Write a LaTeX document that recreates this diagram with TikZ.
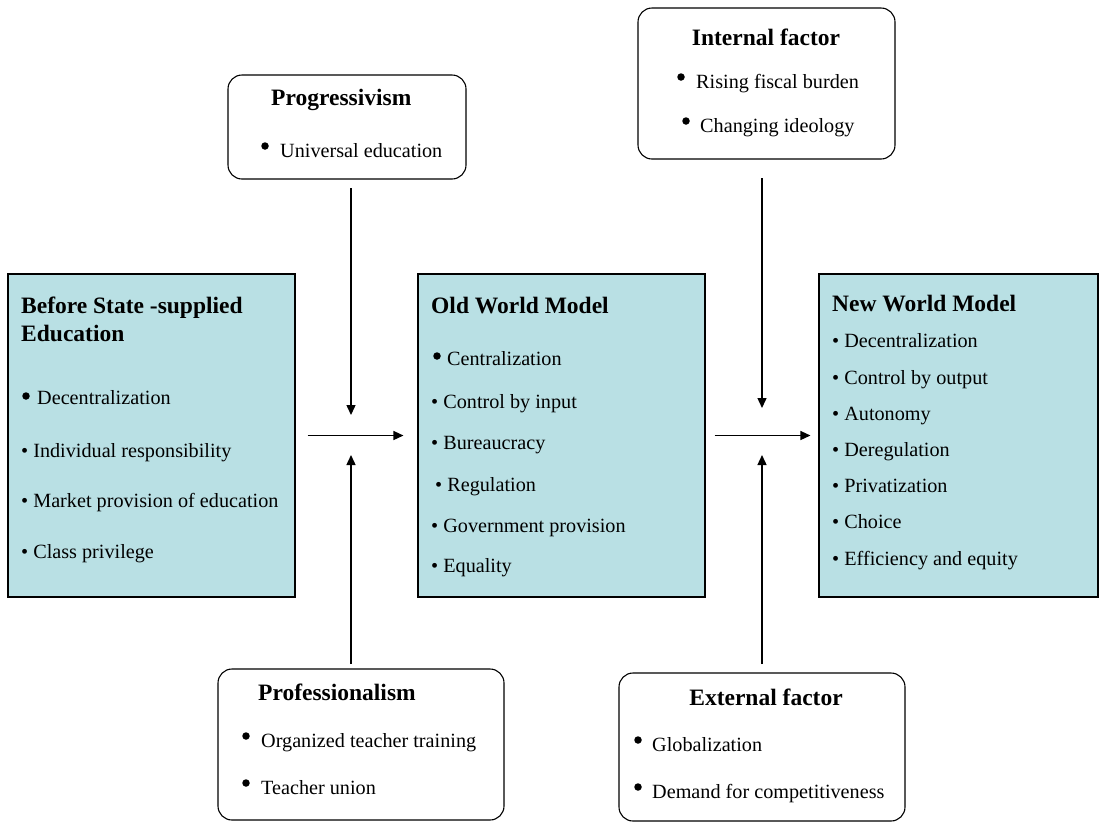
\documentclass[tikz,border=0pt]{standalone}
\usepackage{fontspec}
\setmainfont{Liberation Serif}
\usepackage{tikz}
\usetikzlibrary{arrows.meta, positioning}
\definecolor{boxblue}{RGB}{185,224,228}

\begin{document}
\begin{tikzpicture}[
  x=1pt, y=-1pt,
  model/.style={draw, fill=boxblue, line width=1.1pt, inner sep=0pt},
  factor/.style={draw, fill=white, rounded corners=14pt, line width=1.1pt, inner sep=0pt},
  head/.style={anchor=base west, inner sep=0pt, font=\fontsize{23.5}{27}\selectfont\bfseries},
  item/.style={anchor=base west, inner sep=0pt, font=\fontsize{20.2}{23}\selectfont},
  dot/.style={circle, fill=black, inner sep=0pt, minimum size=7.5pt},
  arrow/.style={-{Triangle[length=10pt, width=9pt]}, line width=1.4pt}
]
\useasboundingbox (0,0) rectangle (1099,823);

% model boxes
\node[model, minimum width=287pt, minimum height=323pt] (before) at (151.5,435.5) {};
\node[model, minimum width=287pt, minimum height=323pt] (old) at (561.5,435.5) {};
\node[model, minimum width=279pt, minimum height=323pt] (new) at (958.5,435.5) {};

% factor boxes
\node[factor, minimum width=238pt, minimum height=104pt] (prog) at (347,127) {};
\node[factor, minimum width=286pt, minimum height=151pt] (prof) at (361,744.5) {};
\node[factor, minimum width=257pt, minimum height=151pt] (intern) at (766.5,83.5) {};
\node[factor, minimum width=286pt, minimum height=148pt] (extern) at (762,747) {};

% before state-supplied education
\node[head] (beforeA) at (21,313) {Before State -supplied};
\node[head] (beforeB) at (21,341) {Education};
\node[dot] (b1) at (26,396) {};
\node[item] (beforeC) at (37,404) {Decentralization};
\node[item] (beforeD) at (21,457) {• Individual responsibility};
\node[item] (beforeE) at (21,507) {• Market provision of education};
\node[item] (beforeF) at (21,558) {• Class privilege};

% old world model
\node[head] (oldA) at (431,313) {Old World Model};
\node[dot] (o1) at (437,356) {};
\node[item] (oldB) at (447,365) {Centralization};
\node[item] (oldC) at (431,408) {• Control by input};
\node[item] (oldD) at (431,449) {• Bureaucracy};
\node[item] (oldE) at (435,491) {• Regulation};
\node[item] (oldF) at (431,532) {• Government provision};
\node[item] (oldG) at (431,572) {• Equality};

% new world model
\node[head] (newA) at (832,311) {New World Model};
\node[item] (newB) at (832,347) {• Decentralization};
\node[item] (newC) at (832,384) {• Control by output};
\node[item] (newD) at (832,420) {• Autonomy};
\node[item] (newE) at (832,456) {• Deregulation};
\node[item] (newF) at (832,492) {• Privatization};
\node[item] (newG) at (832,528) {• Choice};
\node[item] (newH) at (832,565) {• Efficiency and equity};

% progressivism
\node[head] (progA) at (271,105) {Progressivism};
\node[dot] (p1) at (265,146) {};
\node[item] (progB) at (280,157) {Universal education};

% professionalism
\node[head] (profA) at (258,700) {Professionalism};
\node[dot] (f1) at (246,736) {};
\node[item] (profB) at (261,747) {Organized teacher training};
\node[dot] (f2) at (246,783) {};
\node[item] (profC) at (261,794) {Teacher union};

% internal factor
\node[head, anchor=base] (internA) at (766,45) {Internal factor};
\node[dot] (i1) at (681,77) {};
\node[item] (internB) at (696,88) {Rising fiscal burden};
\node[dot] (i2) at (686,121) {};
\node[item] (internC) at (700,132) {Changing ideology};

% external factor
\node[head, anchor=base] (externA) at (766,705) {External factor};
\node[dot] (e1) at (638,740) {};
\node[item] (externB) at (652,751) {Globalization};
\node[dot] (e2) at (638,787) {};
\node[item] (externC) at (652,798) {Demand for competitiveness};

% junctions
\coordinate (j1) at (351,435);
\coordinate (j2) at (762,435);

\draw[arrow] (351,188) coordinate (p0) -- ([yshift=20pt]j1);
\draw[arrow] (351,664) coordinate (f0) -- ([yshift=-20pt]j1);
\draw[arrow] ([xshift=12pt]before.east) -- ([xshift=-14pt]old.west);
\draw[arrow] (762,178) coordinate (i0) -- ([yshift=27pt]j2);
\draw[arrow] (762,664) coordinate (e0) -- ([yshift=-20pt]j2);
\draw[arrow] ([xshift=9pt]old.east) -- ([xshift=-8pt]new.west);
\end{tikzpicture}
\end{document}
